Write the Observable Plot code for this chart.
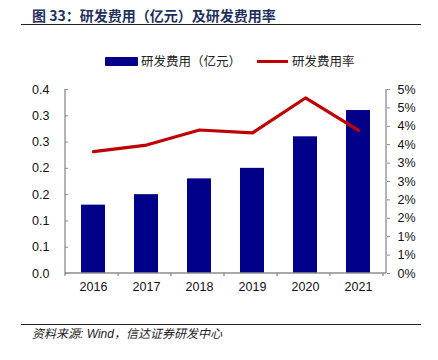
<!DOCTYPE html>
<html><head><meta charset="utf-8">
<script src="https://cdn.jsdelivr.net/npm/d3@7"></script>
<script src="https://cdn.jsdelivr.net/npm/@observablehq/plot@0.6"></script>
<style>
body{margin:0;background:#fff;}
#wrap{position:relative;width:438px;height:360px;overflow:hidden;background:#fff;font-family:"Liberation Sans",Arial,sans-serif;}
#title{position:absolute;left:32px;top:5px;font-family:"Noto Sans CJK SC",sans-serif;font-weight:700;font-size:14px;color:#1f2f5e;white-space:nowrap;line-height:20px;}
.hr{position:absolute;left:21px;width:400px;height:0;border-top:1.5px solid #222;}
#legend{position:absolute;top:52px;left:0;width:438px;height:18px;font-family:"Noto Sans CJK SC",sans-serif;font-size:12.5px;color:#222;}
#legend .sw1{position:absolute;left:105px;top:5px;width:33px;height:9px;background:#000088;border-radius:1px;}
#legend .t1{position:absolute;left:141px;top:0;line-height:18px;white-space:nowrap;}
#legend .sw2{position:absolute;left:257px;top:8px;width:31px;height:3px;background:#c00000;}
#legend .t2{position:absolute;left:292px;top:0;line-height:18px;white-space:nowrap;}
#chart{position:absolute;left:0;top:70px;}
#source{position:absolute;left:32px;top:325px;font-family:"Noto Sans CJK SC",sans-serif;font-style:italic;font-size:12px;color:#222;white-space:nowrap;line-height:16px;}
#source .w{font-family:"Liberation Sans",Arial,sans-serif;}
</style></head><body>
<div id="wrap">
  <div id="title">图 33：研发费用（亿元）及研发费用率</div>
  <div class="hr" style="top:24px"></div>
  <div id="legend">
    <div class="sw1"></div><div class="t1">研发费用（亿元）</div>
    <div class="sw2"></div><div class="t2">研发费用率</div>
  </div>
  <div id="chart"></div>
  <div class="hr" style="top:324px"></div>
  <div id="source">资料来源<span class="w">: Wind</span>，信达证券研发中心</div>
</div>
<script>
const years = ["2016","2017","2018","2019","2020","2021"];
const rdExpense = [0.13, 0.15, 0.18, 0.20, 0.26, 0.31];
const rdRate = [0.0331, 0.0349, 0.0390, 0.0382, 0.0477, 0.0389];
const leftTicks = [0, 0.05, 0.10, 0.15, 0.20, 0.25, 0.30, 0.35];
const leftTickLabels = ["0.0","0.1","0.1","0.2","0.2","0.3","0.3","0.4"];
const rightTicks = [0, 0.005, 0.01, 0.015, 0.02, 0.025, 0.03, 0.035, 0.04, 0.045, 0.05];
const rightTickLabels = ["0%","1%","1%","2%","2%","3%","3%","4%","4%","5%","5%"];

const yMax = 0.35, rMax = 0.05, k = yMax / rMax;
const barData = years.map((y, i) => ({year: y, value: rdExpense[i]}));
const lineData = years.map((y, i) => ({year: y, rate: rdRate[i]}));
const axisColor = "#8c8c8c";

const chart = Plot.plot({
  width: 438, height: 240,
  marginTop: 19, marginBottom: 37, marginLeft: 65, marginRight: 52,
  style: {fontFamily: "'Liberation Sans', Arial, sans-serif", fontSize: "12.5px", color: "#111", background: "transparent"},
  x: {type: "band", domain: years, paddingInner: 0.55, paddingOuter: 0.275, label: null},
  y: {domain: [0, yMax], label: null},
  marks: [
    Plot.barY(barData, {x: "year", y: "value", fill: "#000088"}),
    Plot.line(lineData, {x: "year", y: d => d.rate * k, stroke: "#c00000", strokeWidth: 3.2}),
    Plot.axisY({anchor: "left", ticks: leftTicks, tickFormat: (d, i) => leftTickLabels[i], tickSize: -3, tickPadding: 19, stroke: axisColor, label: null}),
    Plot.axisY({anchor: "right", ticks: rightTicks.map(r => r * k), tickFormat: (d, i) => rightTickLabels[i], tickSize: 3, tickPadding: 8, stroke: axisColor, label: null}),
    Plot.axisX({tickSize: 0, tickPadding: 9, label: null})
  ]
});
document.getElementById("chart").appendChild(chart);

// axis lines and band-boundary ticks from the chart's own scales
const sx = chart.scale("x"), sy = chart.scale("y");
const x0 = sx.range[0], x1 = sx.range[1];
const yb = sy.apply(0), yt = sy.apply(yMax);
const svg = d3.select(chart);
const g = svg.append("g").attr("stroke", axisColor).attr("stroke-width", 1.3).attr("fill", "none");
g.append("line").attr("x1", x0).attr("x2", x0).attr("y1", yt).attr("y2", yb);
g.append("line").attr("x1", x1).attr("x2", x1).attr("y1", yt).attr("y2", yb);
g.append("line").attr("x1", x0).attr("x2", x1).attr("y1", yb).attr("y2", yb);
for (let i = 0; i <= years.length; i++) {
  const xb = x0 + i * sx.step;
  g.append("line").attr("x1", xb).attr("x2", xb).attr("y1", yb).attr("y2", yb + 3);
}
</script>
</body></html>
